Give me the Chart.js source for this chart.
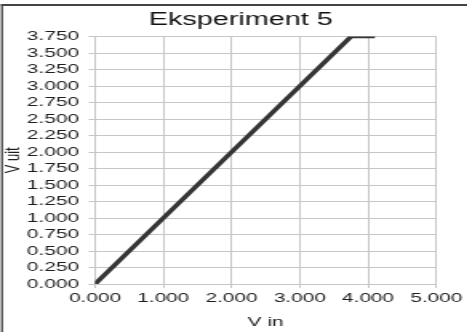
<!DOCTYPE html>
<html>
<head>
<meta charset="utf-8">
<script src="https://cdn.jsdelivr.net/npm/chart.js@4/dist/chart.umd.min.js"></script>
<style>
  html, body { margin: 0; padding: 0; background: #fff; overflow: hidden; }
  #wrap { width: 292px; height: 332px; transform: scaleX(1.6); transform-origin: 0 0; }
</style>
</head>
<body>
<div id="wrap"><canvas id="c" width="292" height="332"></canvas></div>
<script>
const chartTitle = "Eksperiment 5";
const xTitle = "V in";
const yTitle = "V uit";
const vIn  = [0.000, 3.750, 4.100];
const vUit = [0.000, 3.750, 3.750];
const xMin = 0, xMax = 5, xStep = 1;
const yMin = 0, yMax = 3.75, yStep = 0.25;

const FONT = "'Liberation Sans', Arial, sans-serif";
const gridColor = '#c6c6c6';

const frame = {
  id: 'frame',
  afterLayout(chart) {
    const t = chart.titleBlock;
    if (t) { const c = 150.5; t.left = 2 * c - t.right; }
  },
  afterDraw(chart) {
    const ctx = chart.ctx;
    ctx.save();
    ctx.strokeStyle = '#444';
    ctx.lineWidth = 1.3;
    ctx.beginPath(); ctx.moveTo(1.3, 4); ctx.lineTo(1.3, chart.height); ctx.stroke();
    ctx.lineWidth = 2;
    ctx.beginPath(); ctx.moveTo(0.65, 5); ctx.lineTo(chart.width, 5); ctx.stroke();
    ctx.restore();
  }
};

new Chart(document.getElementById('c'), {
  type: 'scatter',
  data: {
    datasets: [{
      data: vIn.map((x, i) => ({ x: x, y: vUit[i] })),
      showLine: true,
      borderColor: '#353535',
      borderWidth: 3.5,
      pointRadius: 0,
      fill: false,
      tension: 0
    }]
  },
  plugins: [frame],
  options: {
    responsive: false,
    animation: false,
    devicePixelRatio: 1,
    layout: { padding: { left: 0, right: 14, top: 9, bottom: 0 } },
    plugins: {
      legend: { display: false },
      tooltip: { enabled: false },
      title: {
        display: true, text: chartTitle, color: '#111',
        font: { family: FONT, size: 18, weight: 'normal' },
        padding: { top: 0, bottom: 6 }
      }
    },
    scales: {
      x: {
        type: 'linear', min: xMin, max: xMax,
        afterFit(s) { s.height = 48; },
        ticks: { stepSize: xStep, color: '#1e1e1e', padding: 3, autoSkip: false,
          maxRotation: 0,
          font: { family: FONT, size: 13 },
          callback: v => Number(v).toFixed(3) },
        grid: { color: gridColor, lineWidth: 1, tickLength: 4 },
        border: { color: gridColor },
        title: { display: true, text: xTitle, color: '#1e1e1e',
          font: { family: FONT, size: 13 }, padding: { top: 0, bottom: 2 } }
      },
      y: {
        type: 'linear', min: yMin, max: yMax,
        afterFit(s) { s.width = 59.4; },
        ticks: { stepSize: yStep, color: '#1e1e1e', padding: 6, autoSkip: false,
          font: { family: FONT, size: 13 },
          callback: v => Number(v).toFixed(3) },
        grid: { color: gridColor, lineWidth: 1, tickLength: 4 },
        border: { color: gridColor },
        title: { display: true, text: yTitle, color: '#1e1e1e',
          font: { family: FONT, size: 13 }, padding: { top: 1, bottom: 0 } }
      }
    }
  }
});
</script>
</body>
</html>
